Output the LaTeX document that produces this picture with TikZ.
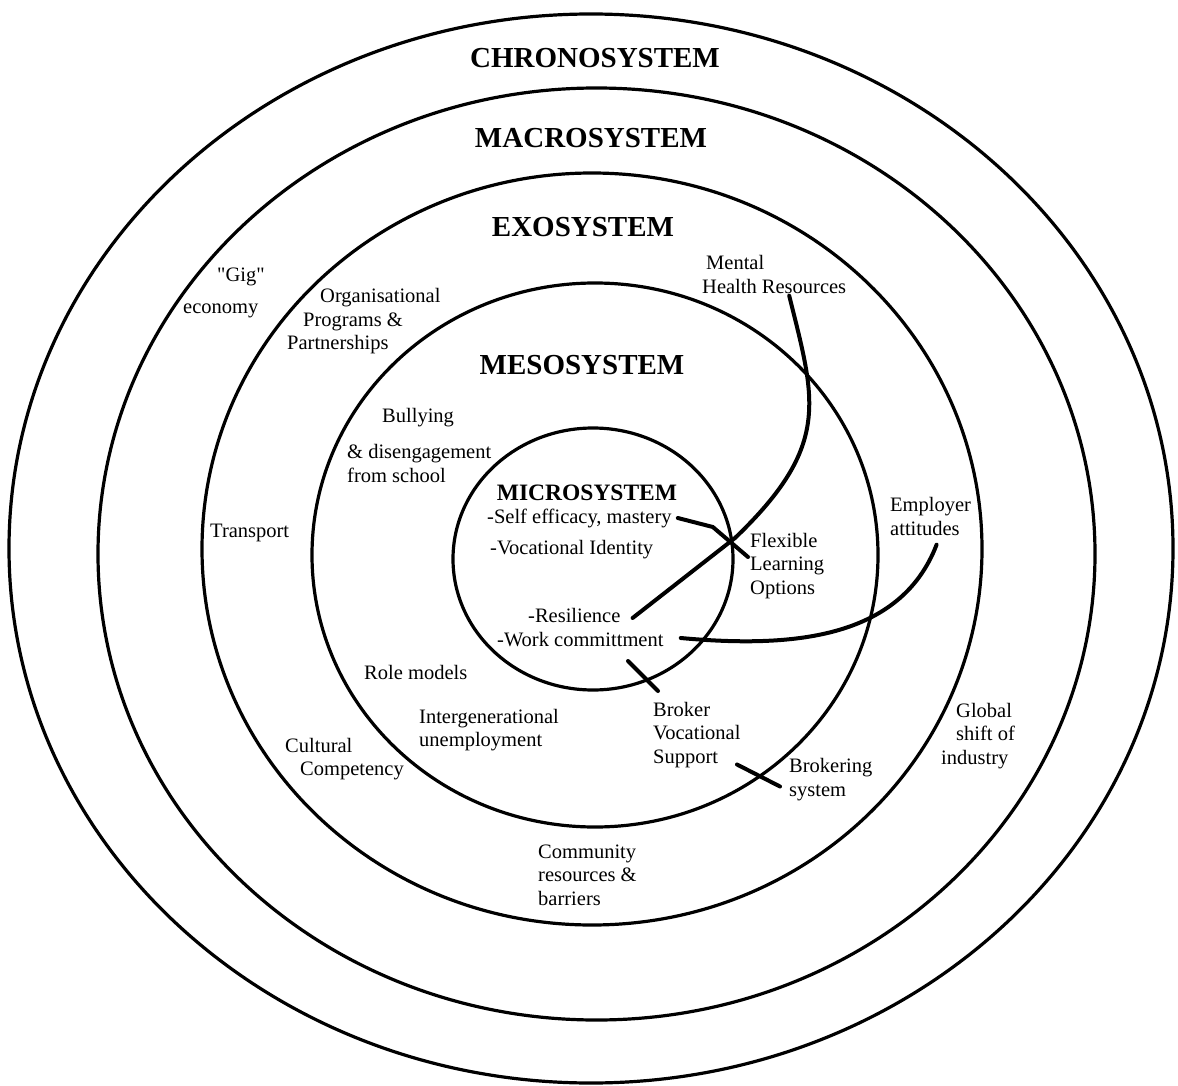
\documentclass[tikz,border=0pt]{standalone}
\usepackage{fontspec}
\setmainfont{Liberation Serif}
\newfontfamily\plainserif{Liberation Serif}
\usepackage{tikz}

\begin{document}
\begin{tikzpicture}[x=1pt,y=-1pt]
\tikzset{every node/.style={inner sep=0pt,font=\fontsize{20.5}{23.5}\selectfont},
  ring/.style={line width=3.2pt},
  link/.style={line width=4pt,line cap=round},
  sysname/.style={font=\fontsize{29}{32}\selectfont\bfseries},
  lbl/.style={anchor=west,align=left}}
\useasboundingbox (0,0) rectangle (1178,1086);

% Rings (chrono, macro, exo, meso, micro)
\draw[ring] (591,548.5) ellipse [x radius=582,y radius=534.5];
\draw[ring] (596.5,554) ellipse [x radius=498.5,y radius=466];
\draw[ring] (592,549) ellipse [x radius=390,y radius=376];
\draw[ring] (595,555) ellipse [x radius=283,y radius=272];
\draw[ring] (593,559) ellipse [x radius=140,y radius=131];

% System names
\node[sysname] (chrono) at (595,58) {CHRONOSYSTEM};
\node[sysname] (macro) at (591,138) {MACROSYSTEM};
\node[sysname] (exo) at (583,227) {EXOSYSTEM};
\node[sysname] (meso) at (582,365) {MESOSYSTEM};
\node[sysname,font=\fontsize{23.5}{26}\selectfont\bfseries] (micro) at (587,493) {MICROSYSTEM};

% Factors
\node[lbl] (gig) at (183,293) {\hspace*{34pt}{\plainserif "Gig"}\\[9pt]economy};
\node[lbl] (org) at (287,321.5) {\hspace*{33pt}Organisational\\\hspace*{16pt}Programs \&\\Partnerships};
\node[lbl] (mental) at (702,274.5) {\hspace*{4pt}Mental\\Health Resources};
\node[lbl] (bully) at (382,418) {Bullying};
\node[lbl] (diseng) at (347,463.5) {\& disengagement\\from school};
\node[lbl] (transport) at (210,533) {Transport};
\node[lbl] (selfeff) at (487,518) {-Self efficacy, mastery};
\node[lbl] (vocid) at (490,550) {-Vocational Identity};
\node[lbl] (resil) at (528,615) {-Resilience};
\node[lbl] (work) at (497,640) {-Work committment};
\node[lbl] (flex) at (750,566) {Flexible\\Learning\\Options};
\node[lbl] (employer) at (890,516.5) {Employer\\attitudes};
\node[lbl] (role) at (364,672) {Role models};
\node[lbl] (intergen) at (419,730) {Intergenerational\\unemployment};
\node[lbl] (cultural) at (285,759) {Cultural\\\hspace*{15pt}Competency};
\node[lbl] (broker) at (653,735) {Broker\\Vocational\\Support};
\node[lbl] (brokering) at (789,779.5) {Brokering\\system};
\node[lbl] (global) at (941,736) {\hspace*{15pt}Global\\\hspace*{15pt}shift of\\industry};
\node[lbl] (community) at (538,875) {Community\\resources \&\\barriers};

% Links
\coordinate (cross) at (735,538);
\draw[link] ([xshift=15pt,yshift=-2pt]mental.south) .. controls (815,400) and (832,445) .. (cross) -- ([xshift=12pt,yshift=-3pt]resil.east);
\draw[link] ([xshift=6pt]selfeff.east) -- ++(35,9) -- ([xshift=-2pt,yshift=9pt]flex.west);
\draw[link] ([xshift=17pt,yshift=2pt]work.east) .. controls (790,648) and (900,640) .. ([xshift=6pt,yshift=-9pt]employer.south);
\draw[link] ([xshift=5pt,yshift=11pt]broker.north west) -- ++(-30,-30);
\draw[link] ([xshift=-9pt,yshift=-7pt]brokering.west) -- ++(-43,-22);

\end{tikzpicture}
\end{document}
